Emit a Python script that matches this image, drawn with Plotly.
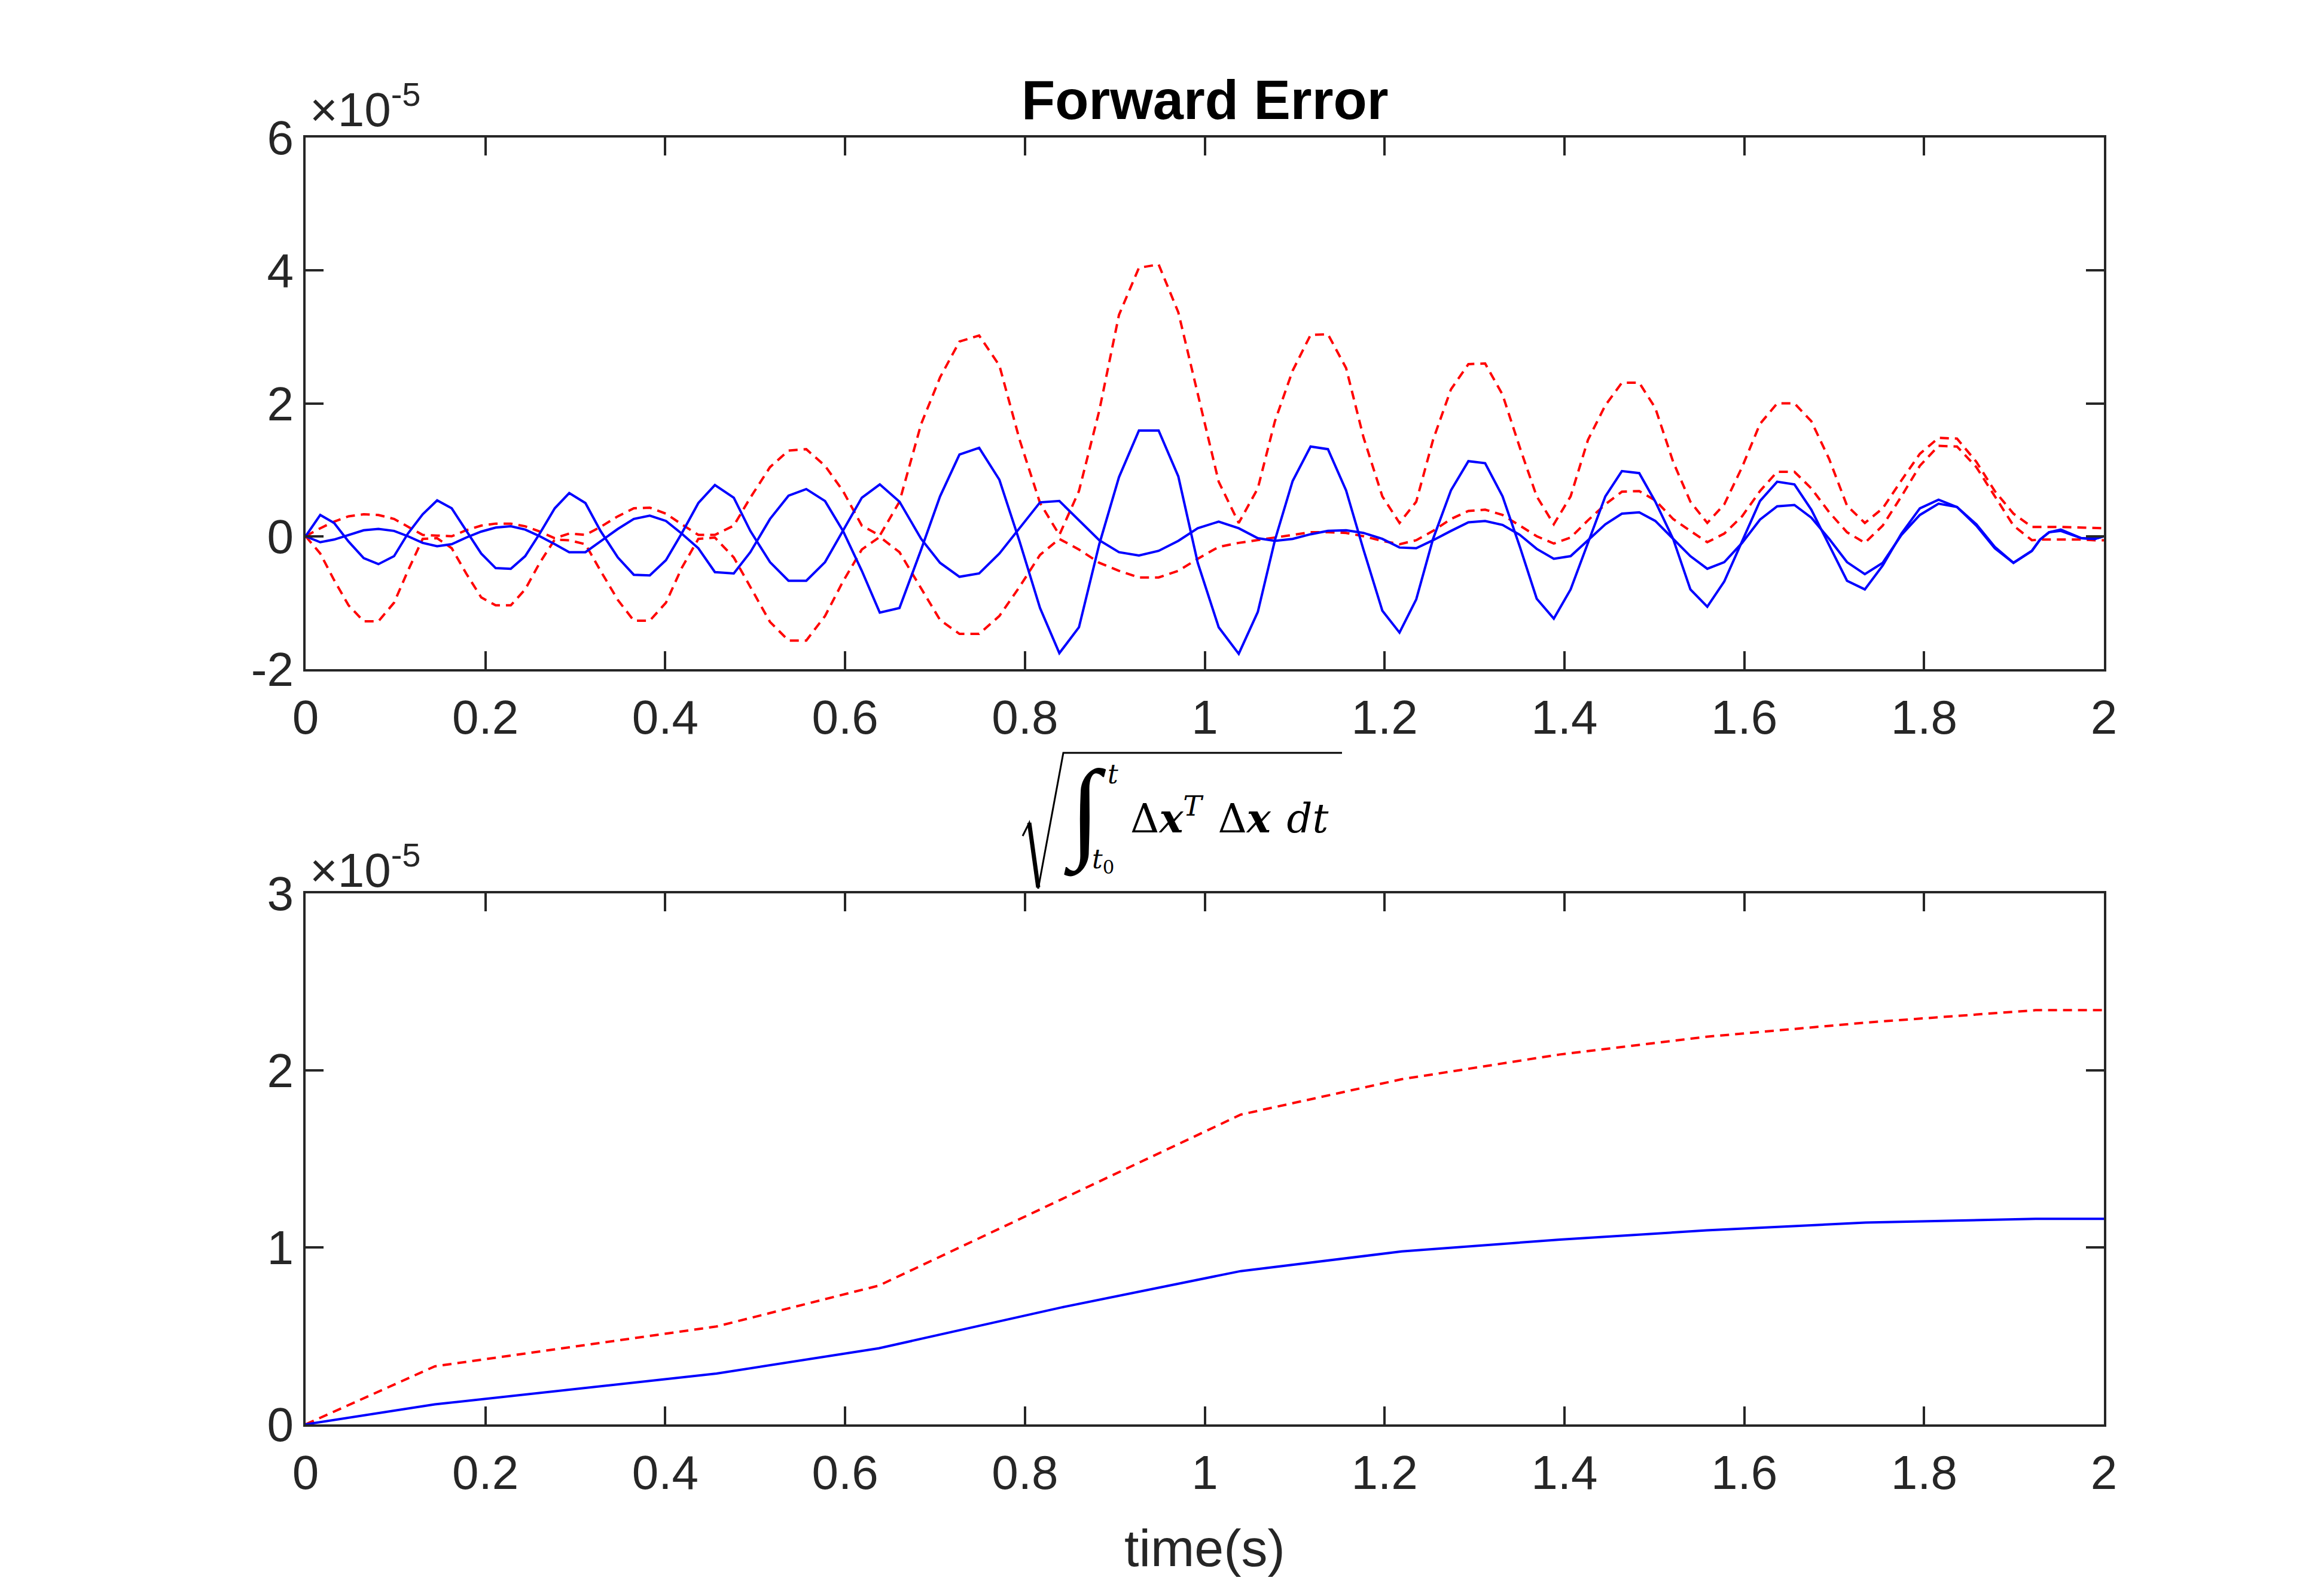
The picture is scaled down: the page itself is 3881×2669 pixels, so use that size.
import plotly.graph_objects as go

W, H = 3881, 2669

t = [0.0, 0.0163, 0.0317, 0.0478, 0.0646, 0.0810, 0.0984, 0.1138, 0.1302, 0.1463,
     0.1625, 0.1786, 0.1953, 0.2114, 0.2282, 0.2442, 0.2604, 0.2771, 0.2932, 0.3112,
     0.3280, 0.3473, 0.3650, 0.3828, 0.4008, 0.4182, 0.4368, 0.4552, 0.4762, 0.4946,
     0.5165, 0.5371, 0.5568, 0.5777, 0.5977, 0.6186, 0.6386, 0.6605, 0.6846, 0.7056,
     0.7272, 0.7491, 0.7716, 0.7941, 0.8168, 0.8383, 0.8601, 0.8827, 0.9046, 0.9268,
     0.9487, 0.9706, 0.9922, 1.0155, 1.0378, 1.0590, 1.0780, 1.0977, 1.1177, 1.1370,
     1.1572, 1.1765, 1.1975, 1.2166, 1.2352, 1.2539, 1.2738, 1.2932, 1.3118, 1.3312,
     1.3505, 1.3692, 1.3882, 1.4069, 1.4262, 1.4455, 1.4639, 1.4832, 1.5011, 1.5209,
     1.5401, 1.5589, 1.5778, 1.5976, 1.6175, 1.6366, 1.6558, 1.6746, 1.6945, 1.7143,
     1.7341, 1.7540, 1.7748, 1.7953, 1.8161, 1.8366, 1.8581, 1.8786, 1.8994, 1.9199,
     1.9290, 1.9390, 1.9520, 1.9750, 1.9900, 2.0000]

# forward error components, units of 1e-5
blue_a = [0, 0.32, 0.20, -0.08, -0.33, -0.42, -0.30, 0.04, 0.33, 0.54,
          0.42, 0.08, -0.26, -0.48, -0.49, -0.30, 0.04, 0.42, 0.65, 0.50,
          0.08, -0.32, -0.58, -0.59, -0.36, 0.04, 0.50, 0.77, 0.58, 0.08,
          -0.39, -0.67, -0.67, -0.39, 0.08, 0.58, 0.78, 0.52, -0.04, -0.40,
          -0.61, -0.56, -0.26, 0.12, 0.51, 0.53, 0.24, -0.06, -0.24, -0.29,
          -0.22, -0.07, 0.12, 0.22, 0.12, -0.03, -0.07, -0.04, 0.03, 0.08,
          0.09, 0.05, -0.04, -0.17, -0.18, -0.06, 0.08, 0.21, 0.23, 0.17,
          0.02, -0.19, -0.34, -0.30, -0.06, 0.18, 0.34, 0.36, 0.23, -0.04,
          -0.30, -0.49, -0.39, -0.10, 0.25, 0.45, 0.47, 0.28, -0.04, -0.39,
          -0.57, -0.40, 0.02, 0.32, 0.49, 0.44, 0.18, -0.16, -0.40, -0.22,
          -0.05, 0.06, 0.08, -0.03, -0.04, 0.0]
blue_b = [0, -0.09, -0.05, 0.02, 0.09, 0.11, 0.08, 0.0, -0.10, -0.15,
          -0.12, -0.02, 0.07, 0.13, 0.15, 0.10, 0.0, -0.12, -0.24, -0.24,
          -0.08, 0.11, 0.26, 0.31, 0.23, 0.04, -0.18, -0.54, -0.56, -0.24,
          0.26, 0.61, 0.71, 0.53, 0.08, -0.52, -1.15, -1.08, -0.20, 0.60,
          1.23, 1.33, 0.85, -0.08, -1.08, -1.76, -1.37, -0.12, 0.89, 1.59,
          1.59, 0.90, -0.40, -1.37, -1.77, -1.14, -0.06, 0.83, 1.35, 1.31,
          0.69, -0.20, -1.12, -1.45, -0.95, -0.04, 0.69, 1.13, 1.10, 0.60,
          -0.16, -0.94, -1.24, -0.80, -0.10, 0.60, 0.98, 0.95, 0.52, -0.04,
          -0.80, -1.06, -0.68, -0.08, 0.53, 0.82, 0.78, 0.40, -0.14, -0.67,
          -0.80, -0.44, 0.04, 0.42, 0.55, 0.44, 0.16, -0.18, -0.40, -0.22,
          -0.05, 0.06, 0.10, -0.03, -0.04, 0.0]
red_hi = [0, 0.12, 0.22, 0.30, 0.33, 0.32, 0.26, 0.14, 0.02, 0.01,
          0.0, 0.09, 0.16, 0.19, 0.19, 0.15, 0.07, -0.03, 0.04, 0.02,
          0.14, 0.30, 0.42, 0.43, 0.34, 0.18, 0.02, 0.02, 0.16, 0.58,
          1.04, 1.29, 1.31, 1.06, 0.68, 0.16, 0.01, 0.52, 1.69, 2.39,
          2.93, 3.02, 2.57, 1.45, 0.50, 0.02, 0.68, 1.89, 3.33, 4.04,
          4.09, 3.37, 2.15, 0.82, 0.20, 0.72, 1.73, 2.49, 3.03, 3.04,
          2.53, 1.49, 0.60, 0.20, 0.52, 1.45, 2.21, 2.59, 2.60, 2.13,
          1.33, 0.60, 0.18, 0.60, 1.45, 1.97, 2.31, 2.31, 1.93, 1.12,
          0.52, 0.20, 0.48, 1.04, 1.69, 2.00, 2.00, 1.73, 1.16, 0.46,
          0.20, 0.42, 0.84, 1.24, 1.48, 1.47, 1.12, 0.68, 0.34, 0.14,
          0.14, 0.14, 0.14, 0.13, 0.12, 0.12]
red_lo = [0, -0.26, -0.66, -1.04, -1.28, -1.28, -1.00, -0.52, -0.04, -0.03,
          -0.18, -0.56, -0.92, -1.04, -1.04, -0.80, -0.40, -0.05, -0.06, -0.12,
          -0.52, -0.96, -1.27, -1.27, -1.00, -0.48, -0.04, -0.02, -0.32, -0.76,
          -1.29, -1.57, -1.57, -1.20, -0.68, -0.20, -0.01, -0.24, -0.78, -1.26,
          -1.47, -1.47, -1.20, -0.76, -0.28, -0.04, -0.20, -0.40, -0.52, -0.62,
          -0.62, -0.52, -0.34, -0.16, -0.10, -0.06, -0.02, 0.02, 0.06, 0.06,
          0.05, 0.0, -0.07, -0.12, -0.06, 0.08, 0.26, 0.38, 0.40, 0.32,
          0.16, 0.0, -0.11, -0.02, 0.24, 0.48, 0.67, 0.68, 0.54, 0.26,
          0.08, -0.09, 0.04, 0.30, 0.68, 0.97, 0.97, 0.72, 0.36, 0.06,
          -0.10, 0.16, 0.60, 1.06, 1.36, 1.35, 1.04, 0.60, 0.16, -0.06,
          -0.05, -0.05, -0.05, -0.05, -0.06, -0.06]

# sqrt of integrated squared error, units of 1e-5
t_acc = [0, 0.1437, 0.457, 0.6375, 0.84, 1.04, 1.219, 1.395, 1.558, 1.735, 1.924, 2.0]
acc_blue = [0, 0.113, 0.287, 0.43, 0.66, 0.866, 0.977, 1.044, 1.096, 1.14, 1.161, 1.161]
acc_red = [0, 0.328, 0.553, 0.784, 1.27, 1.75, 1.95, 2.09, 2.19, 2.27, 2.34, 2.34]

x_ticks = [0, 0.2, 0.4, 0.6, 0.8, 1, 1.2, 1.4, 1.6, 1.8, 2]
x_ticktext = ["0", "0.2", "0.4", "0.6", "0.8", "1", "1.2", "1.4", "1.6", "1.8", "2"]
y1_ticks = [-2, 0, 2, 4, 6]
y2_ticks = [0, 1, 2, 3]

FONT = "Liberation Sans, Arial, Helvetica, sans-serif"
SERIF = "DejaVu Serif, Liberation Serif, serif"
AX = "#262626"
BLUE = "#0000ff"
RED = "#ff0000"
DASH = "15px,10px"


def px(x, y):
    return x / W, 1 - y / H


def axis(**kw):
    d = dict(showline=True, linecolor=AX, linewidth=4, mirror="allticks",
             ticks="inside", ticklen=30, tickwidth=3.5, tickcolor=AX,
             showgrid=False, zeroline=False, fixedrange=True, automargin=False,
             tickfont=dict(family=FONT, size=80, color=AX))
    d.update(kw)
    return d


fig = go.Figure()
for ys in (red_hi, red_lo):
    fig.add_trace(go.Scatter(x=t, y=ys, mode="lines", xaxis="x", yaxis="y",
                             line=dict(color=RED, width=4, dash=DASH)))
for ys in (blue_a, blue_b):
    fig.add_trace(go.Scatter(x=t, y=ys, mode="lines", xaxis="x", yaxis="y",
                             line=dict(color=BLUE, width=4)))
fig.add_trace(go.Scatter(x=t_acc, y=acc_red, mode="lines", xaxis="x2", yaxis="y2",
                         line=dict(color=RED, width=4, dash=DASH)))
fig.add_trace(go.Scatter(x=t_acc, y=acc_blue, mode="lines", xaxis="x2", yaxis="y2",
                         line=dict(color=BLUE, width=4)))

xd = [503 / W, 3510 / W]
fig.update_layout(
    width=W, height=H, showlegend=False,
    paper_bgcolor="white", plot_bgcolor="white",
    margin=dict(l=0, r=0, t=0, b=0, pad=0),
    xaxis=axis(domain=xd, anchor="y", range=[0, 2], tickvals=x_ticks,
               ticktext=x_ticktext, ticklabelstandoff=8),
    yaxis=axis(domain=[1 - 1111 / H, 1 - 222 / H], anchor="x", range=[-2, 6],
               tickvals=y1_ticks, ticktext=[str(v) for v in y1_ticks]),
    xaxis2=axis(domain=xd, anchor="y2", range=[0, 2], tickvals=x_ticks,
                ticktext=x_ticktext, ticklabelstandoff=8),
    yaxis2=axis(domain=[1 - 2374 / H, 1 - 1486 / H], anchor="x2", range=[0, 3],
                tickvals=y2_ticks, ticktext=[str(v) for v in y2_ticks]),
)


def note(text, x, y, xanchor, yanchor, size, family=FONT, color="black"):
    ax_, ay_ = px(x, y)
    fig.add_annotation(text=text, x=ax_, y=ay_, xref="paper", yref="paper",
                       xanchor=xanchor, yanchor=yanchor, showarrow=False,
                       font=dict(family=family, size=size, color=color))


note("<b>Forward Error</b>", 2006, 212, "center", "bottom", 92)
note("×10<sup>-5</sup>", 508, 222, "left", "bottom", 80, color=AX)
note("×10<sup>-5</sup>", 508, 1494, "left", "bottom", 80, color=AX)
note("time(s)", 2006, 2580, "center", "middle", 88, color=AX)

# second title: sqrt( int_{t0}^{t} dx^T dx dt )
note("Δ<b><i>x</i></b><sup><i>T</i></sup>\u2009\u2009Δ<b><i>x</i></b>\u2009\u2009<i>dt</i>",
     1880, 1402, "left", "bottom", 67, family=SERIF)
note("∫", 1806, 1350, "center", "middle", 185, family="Liberation Serif")
note("<i>t</i>", 1842, 1314, "left", "bottom", 44, family=SERIF)
note("<i>t</i><sub>0</sub>", 1816, 1462, "left", "bottom", 44, family=SERIF)


def path(pts):
    s = ""
    for i, p in enumerate(pts):
        xx, yy = px(*p)
        s += ("M" if i == 0 else " L") + f" {xx},{yy}"
    return s


fig.add_shape(type="path", xref="paper", yref="paper",
              path=path([(1702, 1390), (1713, 1368), (1728, 1478), (1770, 1251), (2236, 1251)]),
              line=dict(color="black", width=3))
fig.add_shape(type="path", xref="paper", yref="paper",
              path=path([(1713, 1368), (1728, 1476)]),
              line=dict(color="black", width=7))

fig.write_html("out.html")
